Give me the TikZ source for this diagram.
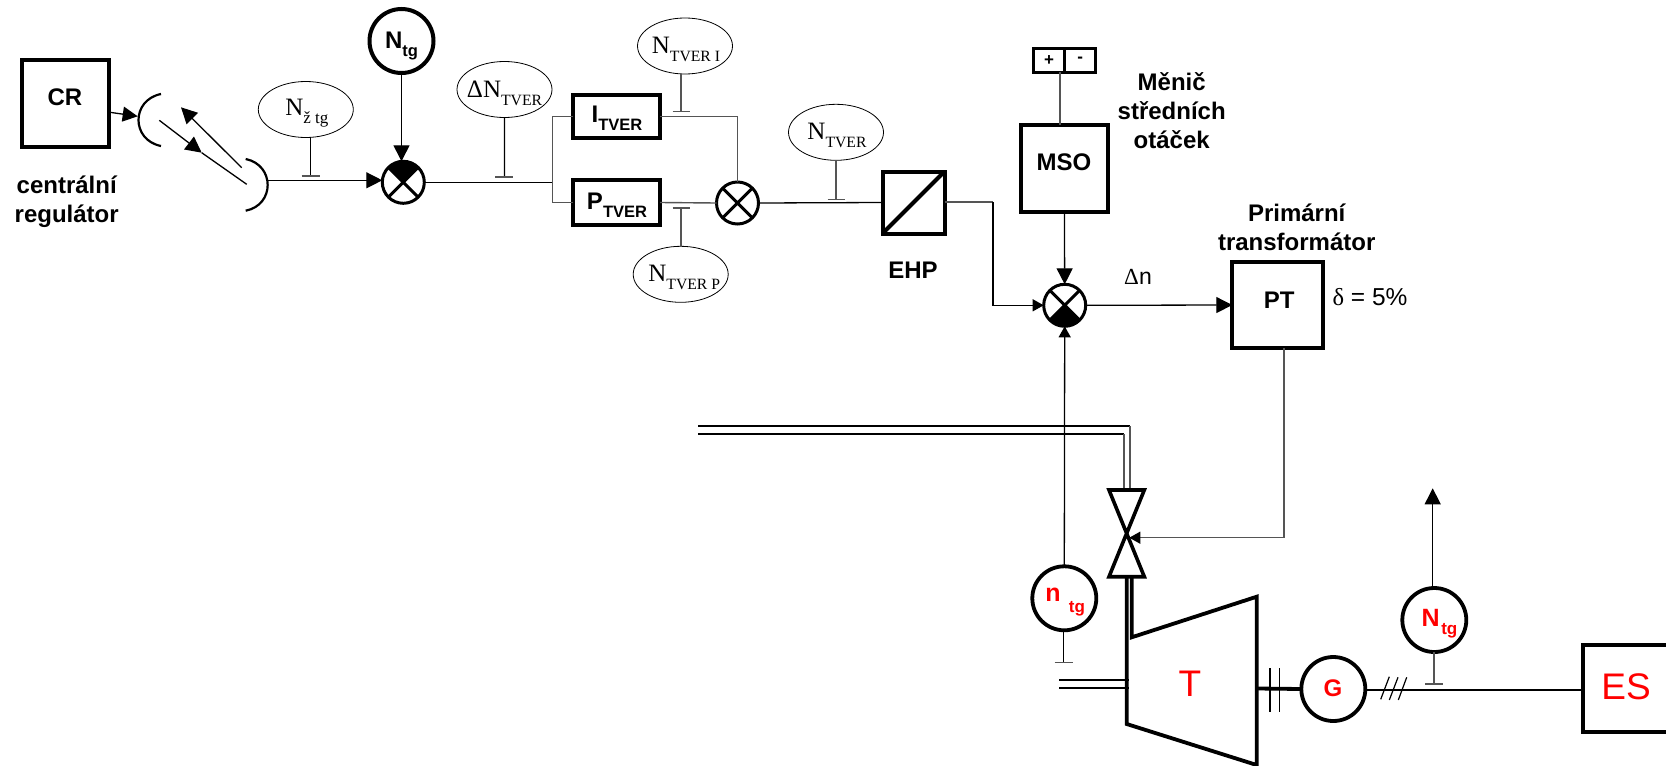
\documentclass[tikz,border=0pt]{standalone}
\usepackage{fontspec}
\setmainfont{Liberation Sans}
\newfontfamily\serifF{Liberation Serif}
\usetikzlibrary{arrows.meta,shapes.geometric}
\definecolor{wire}{HTML}{555555}
\definecolor{redtxt}{HTML}{FF0000}
\newcommand{\fsz}[1]{\fontsize{#1}{#1}\selectfont}
\newcommand{\serifsub}[3][15.7]{{\serifF\fsz{25}#2\raisebox{-8pt}{\fsz{#1}#3}}}
\newcommand{\bsub}[3]{{\bfseries\fsz{24}#1\raisebox{#3}{\fsz{16.5}#2}}}
\tikzset{
  x=1pt,y=-1pt,
  blockbox/.style={draw,line width=4pt,rectangle,inner sep=0pt,outer sep=0pt,font=\bfseries\fsz{24}},
  mixer/.style={draw,line width=3pt,circle,minimum size=42pt,inner sep=0pt,outer sep=0pt},
  meter/.style={draw,line width=3.8pt,circle,minimum size=64pt,inner sep=0pt,outer sep=0pt},
  tag/.style={draw,line width=0.8pt,ellipse,minimum width=95pt,minimum height=56pt,inner sep=0pt,outer sep=0pt},
  captext/.style={inner sep=0pt,outer sep=0pt,align=center,font=\bfseries\fsz{24}},
  lbl/.style={inner sep=0pt,outer sep=0pt},
  thin wire/.style={line width=1.3pt,draw=black},
  gray wire/.style={line width=1.4pt,draw=wire},
  thick line/.style={line width=3.8pt,line join=miter},
  big head/.style={-{Triangle[length=16pt,width=16pt]}},
  small head/.style={-{Triangle[length=11pt,width=12pt,color=black]}},
  barline/.style={line width=1.3pt,draw=wire}
}
\newcommand{\mixX}[1]{%
  \draw[line width=3pt] (#1.45)--(#1.225) (#1.135)--(#1.315);}
\newcommand{\wedgeTop}[1]{%
  \fill (#1.center)--(#1.45)--(#1.60)--(#1.75)--(#1.90)--(#1.105)--(#1.120)--(#1.135)--cycle;}
\newcommand{\wedgeBot}[1]{%
  \fill (#1.center)--(#1.225)--(#1.240)--(#1.255)--(#1.270)--(#1.285)--(#1.300)--(#1.315)--cycle;}
\begin{document}
\begin{tikzpicture}
\useasboundingbox (0,0) rectangle (1666,766);
% ---- central regulator and link
\node[blockbox,minimum width=87pt,minimum height=86.7pt] (cr) at (65.5,103.3) {};
\node[lbl,font=\bfseries\fsz{24}] (crt) at (65,97.7) {CR};
\node[captext] (crcap) at (66.7,201.5) {centrální\\[5pt]regulátor};
\coordinate (dl) at (137.7,116.3);
\coordinate (dr) at (267.7,180.3);
\draw[line width=2.2pt] (161,94) .. controls (131,100) and (131,140) .. (161,146);
\draw[line width=2.2pt] (245.7,159) .. controls (275,165) and (275,205) .. (245.7,210.7);
\coordinate (crout) at (110,112.3);
\draw[thin wire,-{Triangle[length=15pt,width=15pt]}] (crout)--(dl);
\coordinate (d1a) at (159.3,120.3); \coordinate (d1m) at (201.7,152.7); \coordinate (d1b) at (246.7,184.3);
\draw[thin wire,big head] (d1a)--(d1m);
\draw[thin wire] (d1m)--(d1b);
\coordinate (d2a) at (241.7,167.7); \coordinate (d2b) at (181,107.3);
\draw[thin wire,big head] (d2a)--(d2b);
% ---- first mixer
\node[mixer] (m1) at (403.3,182.3) {};
\wedgeTop{m1}\mixX{m1}
\draw[thin wire,big head] (dr)--(m1.west |- dr);
\node[meter,line width=4pt] (ntg) at (401.5,41) {};
\node[lbl] (ntgt) at (401.5,46) {\bsub{N}{tg}{-8pt}};
\draw[thin wire,big head] (ntg.south)--(ntg.south |- m1.north);
% ---- tags
\node[tag,label={[yshift=-4pt,xshift=1pt]center:\serifsub[17]{N}{ž tg}}] (tagz) at (305.8,109.5) {};
\coordinate (bz) at (310.7,176);
\draw[thin wire] (tagz.south -| bz)--(bz);
\draw[barline] ([xshift=-9pt]bz)--([xshift=9pt]bz);
\node[tag,label={[yshift=-3.5pt]center:\serifsub{ΔN}{TVER}}] (tagd) at (504.5,89.5) {};
\coordinate (bd) at (504.4,177);
\draw[thin wire] (tagd.south)--(bd);
\draw[barline] ([xshift=-9pt]bd)--([xshift=9pt]bd);
% ---- I, P
\node[blockbox,minimum width=87pt,minimum height=43pt] (ib) at (616.5,116.5) {};
\node[lbl] (ibt) at (617,118.5) {\bsub{I}{TVER}{-8pt}};
\node[blockbox,minimum width=87pt,minimum height=45pt] (pb) at (616.5,202.5) {};
\node[lbl] (pbt) at (617,205) {\bsub{P}{TVER}{-8pt}};
\coordinate (br) at (552.3,182.3);
\draw[thin wire] (m1.east)--(br);
\draw[gray wire] (ib.west)-|(br);
\draw[gray wire] (pb.west)-|(br);
\node[mixer] (m2) at (737.5,203) {};
\mixX{m2}
\draw[gray wire] (ib.east)-|(m2.north);
\draw[gray wire] (pb.east)--(m2.west);
\node[tag,label={[yshift=-3.5pt,xshift=1pt]center:\serifsub{N}{TVER I}}] (tagi) at (685,46) {};
\coordinate (bi) at (681,111.7);
\draw[gray wire] (tagi.south -| bi)--(bi);
\draw[barline] ([xshift=-8.5pt]bi)--([xshift=8.5pt]bi);
\node[tag,label={[yshift=-3.5pt,xshift=3.5pt]center:\serifsub{N}{TVER P}}] (tagp) at (680.7,274.3) {};
\coordinate (bp) at (681,208);
\draw[gray wire] (tagp.north -| bp)--(bp);
\draw[barline] ([xshift=-8.5pt]bp)--([xshift=8.5pt]bp);
\node[tag,label={[yshift=-3pt,xshift=1pt]center:\serifsub{N}{TVER}}] (tagt) at (836,132.3) {};
\coordinate (bt) at (836,199.3);
\draw[gray wire] (tagt.south)--(bt);
\draw[barline] ([xshift=-8.5pt]bt)--([xshift=8.5pt]bt);
% ---- EHP
\node[blockbox,minimum width=62pt,minimum height=62pt] (ehp) at (913.5,202.5) {};
\draw[line width=4pt] (ehp.south west)--(ehp.north east);
\node[captext] (ehpt) at (913,270.7) {EHP};
\draw[thin wire] (m2.east)--(ehp.west);
% ---- MSO
\node[blockbox,minimum width=87pt,minimum height=87pt] (mso) at (1064.4,168) {};
\node[lbl,font=\bfseries\fsz{24}] (msot) at (1064,162.3) {MSO};
\node[captext] (msoc) at (1171.7,110.5) {Měnič\\[5pt]středních\\[5pt]otáček};
\node[draw,line width=3pt,rectangle,minimum width=31.4pt,minimum height=23.6pt,inner sep=0pt,outer sep=0pt,font=\bfseries\fsz{17}] (plus) at (1049,60.2) {+};
\node[draw,line width=3pt,rectangle,minimum width=31pt,minimum height=23.6pt,inner sep=0pt,outer sep=0pt,font=\bfseries\fsz{17}] (minus) at (1080.2,60.2) {-};
\coordinate (pmx) at (1060,100);
\draw[gray wire] (plus.south -| pmx)--(mso.north -| pmx);
% ---- mixer 3
\node[mixer] (m3) at (1064.7,305.3) {};
\wedgeBot{m3}\mixX{m3}
\draw[thin wire,big head] (mso.south)--(m3.north);
\coordinate (ehpc) at (993,202);
\draw[gray wire] (ehp.east |- ehpc)--(ehpc);
\draw[thin wire,small head] (ehpc)|-(m3.west);
% ---- PT
\node[blockbox,minimum width=90.4pt,minimum height=86.6pt] (pt) at (1277.5,305) {};
\node[lbl,font=\bfseries\fsz{24}] (ptt) at (1279.3,300.7) {PT};
\node[captext] (ptc) at (1296.7,227.2) {Primární\\[5pt]transformátor};
\node[lbl,font=\fsz{23}] (dnt) at (1138,277) {{\serifF Δ}n};
\node[lbl,font=\fsz{24.5}] (del) at (1370,296.7) {{\serifF δ} = 5\%};
\draw[thin wire,big head] (m3.east)--(pt.west);
% ---- steam
\coordinate (st1) at (698,426); \coordinate (st2) at (698,434);
\coordinate (s1c) at (1130,426); \coordinate (s2c) at (1124,434);
\coordinate (vt1) at (1130,490); \coordinate (vt2) at (1124,490);
\draw[line width=2.2pt] (st1)--(s1c);
\draw[line width=2.2pt] (st2)--(s2c);
\draw[gray wire] (s1c)--(vt1);
\draw[gray wire] (s2c)--(vt2);
% ---- valve
\coordinate (vc) at (1129.3,537.7);
\draw[line width=3.6pt,line join=miter] (1109,490)--(1144.3,490)--(1109,576.7)--(1144.3,576.7)--cycle;
\coordinate (pto) at (1284,537.7);
\draw[gray wire] (pt.south -| pto)--(pto);
\draw[gray wire,small head] (pto)--(vc);
% ---- turbine
\draw[thick line] (1126.7,577)--(1126.7,724)--(1256.7,765)--(1256.7,596.7)--(1131.7,637.3)--(1131.7,577);
\node[lbl,text=redtxt,font=\fsz{37}] (tt) at (1190,683.3) {T};
\coordinate (ex1) at (1059,680); \coordinate (ex2) at (1059,688.3);
\coordinate (ex1b) at (1129,680); \coordinate (ex2b) at (1129,688.3);
\draw[line width=2.2pt] (ex1)--(ex1b) (ex2)--(ex2b);
% ---- n_tg
\node[meter] (ntm) at (1064.3,598.3) {};
\node[lbl,text=redtxt,font=\bfseries\fsz{25}] (ntn) at (1053,595) {n};
\node[lbl,text=redtxt,font=\bfseries\fsz{17}] (nts) at (1077,609) {tg};
\draw[thin wire,small head] (ntm.north)--(m3.south);
\coordinate (bn) at (1063.5,662.7);
\draw[thin wire] (ntm.south -| bn)--(bn);
\draw[barline] ([xshift=-9pt]bn)--([xshift=9pt]bn);
% ---- generator
\node[meter] (gen) at (1333.3,689) {};
\node[lbl,text=redtxt,font=\bfseries\fsz{24}] (gt) at (1333,688) {G};
\coordinate (tsh) at (1256.7,688.5);
\draw[thick line] (tsh)--(gen.west);
\coordinate (t1a) at (1270,668.3); \coordinate (t1b) at (1270,711.7);
\coordinate (t2a) at (1279.3,668.3); \coordinate (t2b) at (1279.3,711.7);
\draw[line width=1.2pt] (t1a)--(t1b) (t2a)--(t2b);
% ---- ES
\node[rectangle,minimum width=83pt,minimum height=87pt,inner sep=0pt,outer sep=0pt] (es) at (1624.5,688.5) {};
\draw[line width=4pt] (es.north east)--(es.north west)--(es.south west)--(es.south east);
\node[lbl,text=redtxt,font=\fsz{37}] (est) at (1626,686.7) {ES};
\coordinate (esin) at (1583,690);
\draw[thin wire] (gen.east |- esin)--(es.west |- esin);
\draw[line width=1.2pt] (1380.7,699.3)--(1389.3,676.7) (1389.3,700)--(1398,677.3) (1398.3,700)--(1406.7,677.3);
% ---- N_tg red
\node[meter] (nr) at (1434.3,620) {};
\node[lbl,text=redtxt,font=\bfseries\fsz{25}] (nrn) at (1430.7,618) {N};
\node[lbl,text=redtxt,font=\bfseries\fsz{17}] (nrs) at (1449.3,631) {tg};
\coordinate (bg) at (1434,684);
\draw[gray wire] (nr.south -| bg)--(bg);
\draw[barline] ([xshift=-9pt]bg)--([xshift=9pt]bg);
\coordinate (up) at (1432.7,488.3);
\draw[thin wire,big head] (nr.north -| up)--(up);
\end{tikzpicture}
\end{document}
